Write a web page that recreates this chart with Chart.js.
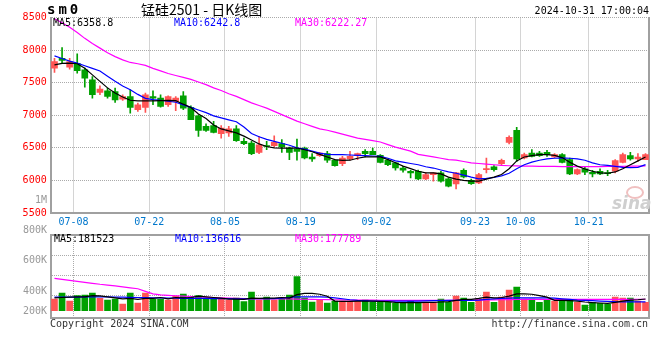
<!DOCTYPE html>
<html><head><meta charset="utf-8">
<script src="https://cdn.jsdelivr.net/npm/chart.js@4.4.1/dist/chart.umd.min.js"></script>
<style>
html,body{margin:0;padding:0;background:#fff;}
#wrap{position:relative;width:660px;height:360px;overflow:hidden;font-family:"DejaVu Sans Mono","Liberation Mono",monospace;}
canvas{position:absolute;left:0;top:0;}
.t{position:absolute;white-space:nowrap;font-size:10px;line-height:12px;}
</style></head><body>
<div id="wrap">
<canvas id="main" width="660" height="360"></canvas>
<canvas id="vol" width="660" height="360"></canvas>
<div class="t" style="left:47px;top:3px;font-size:14px;font-weight:bold;letter-spacing:3px;">sm0</div>
<div class="t" style="left:141px;top:2px;font-size:14px;line-height:15px;font-family:'Noto Sans CJK SC',sans-serif;">锰硅2501 - 日K线图</div>
<div class="t" style="right:11px;top:5px;">2024-10-31 17:00:04</div>
<div class="t" id="lg1" style="left:53px;top:17px;color:#000;"></div>
<div class="t" id="lg2" style="left:174px;top:17px;color:#0000ff;"></div>
<div class="t" id="lg3" style="left:295px;top:17px;color:#ff00ff;"></div>
<div class="t" id="vl1" style="left:54px;top:233px;color:#000;"></div>
<div class="t" id="vl2" style="left:175px;top:233px;color:#0000ff;"></div>
<div class="t" id="vl3" style="left:295px;top:233px;color:#ff00ff;"></div>
<div id="vlab"></div>
<div class="t" style="left:50px;top:318px;color:#333;">Copyright 2024 SINA.COM</div>
<div class="t" style="right:12px;top:318px;color:#333;">http://finance.sina.com.cn</div>
<div style="position:absolute;left:626px;top:186px;width:14px;height:9px;border-radius:50%;border:2px solid #f0c0c0;"></div>
<div class="t" style="left:612px;top:193px;font:italic bold 17px 'DejaVu Sans',sans-serif;color:#cfcfcf;">sina</div>
</div>
<script>
// ---- data ----
const dates = ["07-04","07-05","07-08","07-09","07-10","07-11","07-12","07-15","07-16","07-17","07-18","07-19","07-22","07-23","07-24","07-25","07-26","07-29","07-30","07-31",
"08-01","08-02","08-05","08-06","08-07","08-08","08-09","08-12","08-13","08-14","08-15","08-16","08-19","08-20","08-21","08-22","08-23","08-26","08-27","08-28","08-29","08-30",
"09-02","09-03","09-04","09-05","09-06","09-09","09-10","09-11","09-12","09-13","09-18","09-19","09-20","09-23","09-24","09-25","09-26","09-27","09-30",
"10-08","10-09","10-10","10-11","10-14","10-15","10-16","10-17","10-18","10-21","10-22","10-23","10-24","10-25","10-28","10-29","10-30","10-31"];
const tickLabels = ["07-08","07-22","08-05","08-19","09-02","09-23","10-08","10-21"];
const priceTicks = [5500,6000,6500,7000,7500,8000,8500];
const volAxisLabels = ["1M","800K","600K","400K","200K"];

const open  = [7722,7875,7737,7798,7696,7543,7349,7375,7365,7247,7288,7084,7120,7288,7263,7161,7212,7298,7120,6992,
6829,6840,6717,6727,6793,6599,6574,6431,6535,6533,6564,6497,6482,6497,6360,6380,6411,6309,6258,6329,
6380,6446,6446,6385,6309,6268,6191,6140,6140,6023,6089,6115,6023,5946,6156,6002,5962,6166,6207,6258,
6584,6768,6344,6421,6421,6431,6360,6395,6319,6099,6176,6125,6140,6115,6140,6278,6380,6329,6319];
const high  = [7875,8038,7875,7941,7722,7594,7451,7416,7416,7314,7390,7186,7339,7375,7314,7298,7288,7365,7145,7008,
6870,6906,6840,6830,6840,6650,6599,6676,6600,6686,6625,6513,6635,6513,6411,6431,6446,6319,6370,6446,
6421,6472,6497,6395,6329,6278,6217,6156,6160,6115,6115,6140,6040,6125,6176,6020,6110,6344,6227,6329,
6686,6814,6421,6472,6446,6462,6410,6410,6344,6176,6207,6156,6176,6156,6319,6421,6431,6411,6411];
const low   = [7656,7798,7707,7645,7431,7263,7314,7263,7196,7227,7033,7059,7043,7161,7125,7135,7069,7084,6931,6676,
6753,6727,6650,6676,6600,6549,6395,6411,6470,6513,6431,6319,6309,6329,6293,6370,6278,6217,6227,6309,
6319,6360,6395,6268,6227,6156,6125,6038,6010,6013,5987,5972,5900,5870,6038,5940,5950,6115,6140,6227,
6560,6293,6329,6360,6370,6370,6350,6270,6089,6089,6089,6054,6089,6074,6115,6268,6309,6293,6319];
const close = [7824,7840,7824,7686,7569,7314,7400,7288,7237,7288,7120,7161,7314,7262,7135,7288,7263,7110,6931,6768,
6768,6737,6804,6793,6610,6564,6411,6548,6520,6584,6513,6431,6446,6344,6329,6421,6309,6227,6344,6370,
6411,6411,6395,6278,6242,6191,6156,6115,6023,6089,6115,5987,5911,6115,6054,5951,6089,6181,6166,6309,
6661,6329,6395,6370,6380,6395,6395,6278,6099,6166,6125,6099,6099,6105,6303,6395,6329,6360,6395];
const ma5  = [7773,7795,7800,7790,7720,7620,7520,7420,7340,7280,7230,7222,7222,7222,7225,7228,7225,7170,7120,7020,
6950,6850,6790,6760,6730,6680,6620,6560,6520,6500,6497,6497,6497,6470,6440,6400,6360,6320,6309,6310,
6340,6360,6360,6360,6320,6270,6220,6180,6140,6115,6115,6100,6050,6020,6000,5990,5990,6020,6050,6090,
6180,6300,6360,6380,6395,6395,6385,6350,6280,6220,6175,6140,6115,6110,6130,6180,6240,6300,6358.8];
const ma10 = [7911,7870,7830,7800,7760,7720,7680,7600,7520,7450,7390,7320,7260,7240,7230,7215,7200,7160,7120,7080,
7040,6990,6960,6930,6900,6820,6720,6670,6630,6600,6570,6540,6500,6480,6450,6420,6400,6395,6395,6390,
6385,6380,6375,6370,6340,6300,6280,6260,6240,6210,6190,6160,6130,6110,6080,6050,6025,6030,6045,6070,
6110,6180,6240,6280,6310,6330,6340,6345,6340,6330,6310,6270,6240,6230,6215,6200,6195,6200,6242.8];
const ma30 = [8480,8420,8350,8270,8180,8100,8030,7960,7900,7850,7810,7790,7765,7720,7680,7640,7610,7580,7550,7510,
7470,7420,7380,7330,7290,7240,7190,7150,7110,7060,7010,6960,6910,6870,6830,6790,6770,6740,6710,6680,
6650,6630,6610,6590,6550,6510,6480,6450,6400,6380,6360,6340,6320,6310,6290,6270,6260,6250,6240,6230,
6225,6222,6220,6218,6216,6215,6214,6213,6212,6212,6212,6212,6213,6214,6215,6216,6218,6220,6222.27];
const volume = [181,274,150,233,243,274,191,166,181,104,274,119,274,181,181,166,228,259,217,233,
181,181,181,166,197,140,290,166,212,166,197,243,527,197,135,166,119,150,150,150,
150,166,129,129,129,113,113,150,129,129,129,181,129,228,197,129,181,290,129,212,
321,367,181,181,129,166,150,166,166,129,88,129,113,104,212,197,197,150,129].map(v=>v*1000);
const vma5 = [200,205,210,215,215,235,230,215,200,185,190,175,190,190,205,185,205,200,205,225,
215,205,195,180,180,175,195,190,195,195,205,195,250,270,270,255,225,150,145,145,
150,150,150,145,140,130,125,125,125,130,130,135,140,160,175,175,190,210,200,205,
225,260,260,255,235,210,160,160,155,150,135,125,120,115,130,150,165,170,181.523].map(v=>v*1000);
const vma10 = [210,210,210,212,214,215,215,214,212,210,208,205,203,200,198,196,194,192,190,190,
190,188,187,186,185,185,186,187,188,188,195,205,215,215,215,215,210,200,185,170,
160,155,150,150,150,150,148,148,150,152,155,158,160,162,160,160,165,175,185,190,
195,200,200,200,200,200,195,185,175,165,160,155,150,145,140,138,137,137,136.616].map(v=>v*1000);
const vma30 = [500,485,470,455,440,425,410,398,385,370,355,340,300,260,245,238,232,226,220,214,
210,205,200,196,192,188,185,183,182,182,182,182,180,178,176,174,172,170,168,166,
165,164,163,162,161,160,160,160,160,160,160,160,161,162,163,164,165,166,168,170,
172,174,175,176,176,177,177,177,177,177,177,177,177,177,177,177,177,178,177.789].map(v=>v*1000);

// ---- styles ----
const RED='#ff5454', GREEN='#00a000', GRID='#aaaaaa', AXIS='#a0a0a0';
const MONO='"DejaVu Sans Mono","Liberation Mono",monospace';
const N = dates.length;
const tickPos = tickLabels.map(d => dates.indexOf(d) + 1);
const up = close.map((c,i)=> c >= open[i]);
const col = up.map(u => u ? RED : GREEN);
const pts = arr => arr.map((v,i)=>({x:i+0.5, y:v}));

document.getElementById('lg1').textContent = 'MA5:' + ma5[N-1].toFixed(1);
document.getElementById('lg2').textContent = 'MA10:' + ma10[N-1].toFixed(1);
document.getElementById('lg3').textContent = 'MA30:' + ma30[N-1].toFixed(2);
document.getElementById('vl1').textContent = 'MA5:' + Math.round(vma5[N-1]);
document.getElementById('vl2').textContent = 'MA10:' + Math.round(vma10[N-1]);
document.getElementById('vl3').textContent = 'MA30:' + Math.round(vma30[N-1]);
const vlabTop = [194,224,254,285,305];
document.getElementById('vlab').innerHTML = volAxisLabels.map((s,i)=>
  `<div class="t" style="right:${660-47}px;top:${vlabTop[i]}px;color:#999;text-align:right;">${s}</div>`).join('');

const xTicks = (scale)=>{ scale.ticks = tickPos.map(v=>({value:v})); };
const lineDs = (data,color)=>({type:'line',data:pts(data),borderColor:color,borderWidth:1.2,pointRadius:0,tension:0,order:0});

new Chart(document.getElementById('main'), {
  type:'bar',
  data:{datasets:[
    lineDs(ma5,'#000000'), lineDs(ma10,'#0000ff'), lineDs(ma30,'#ff00ff'),
    {data: open.map((o,i)=>({x:i+0.5,y:[Math.min(o,close[i]),Math.max(o,close[i])]})), backgroundColor:col, barThickness:6, grouped:false, minBarLength:1, order:1},
    {data: low.map((l,i)=>({x:i+0.5,y:[l,high[i]]})), backgroundColor:col, barThickness:1, grouped:false, order:2}
  ]},
  options:{
    responsive:false, animation:false, devicePixelRatio:1,
    layout:{padding:{left:0,right:10.7,top:17.5,bottom:125}},
    plugins:{legend:{display:false},tooltip:{enabled:false}},
    scales:{
      x:{type:'linear',offset:false,min:0,max:N,afterBuildTicks:xTicks,afterFit:s=>{s.height=22;},
         grid:{color:GRID,drawTicks:false,offset:false},border:{color:AXIS,width:2,dash:[1,1]},
         ticks:{autoSkip:false,maxRotation:0,padding:3,color:'#0077cc',font:{family:MONO,size:10},callback:(v,i)=>tickLabels[i]}},
      y:{min:5500,max:8500,afterBuildTicks:s=>{s.ticks=priceTicks.map(v=>({value:v}));},afterFit:s=>{s.width=50.7;},
         grid:{color:GRID,drawTicks:false},border:{color:AXIS,width:2,dash:[1,1]},
         ticks:{padding:4,color:'#ff0000',font:{family:MONO,size:10},callback:v=>String(v)}},
      yr:{position:'right',min:0,max:1,afterFit:s=>{s.width=0;},grid:{display:false,drawTicks:false},border:{color:AXIS,width:2},ticks:{display:false}}
    }
  }
});

new Chart(document.getElementById('vol'), {
  type:'bar',
  data:{datasets:[
    lineDs(vma5,'#000000'), lineDs(vma10,'#0000ff'), lineDs(vma30,'#ff00ff'),
    {data: volume.map((v,i)=>({x:i+0.5,y:v})), backgroundColor:col, barThickness:6, grouped:false, order:1}
  ]},
  options:{
    responsive:false, animation:false, devicePixelRatio:1,
    layout:{padding:{left:0,right:10.7,top:235,bottom:42.5}},
    plugins:{legend:{display:false},tooltip:{enabled:false}},
    scales:{
      x:{type:'linear',offset:false,min:0,max:N,afterBuildTicks:xTicks,afterFit:s=>{s.height=0;},
         grid:{color:GRID,drawTicks:false,offset:false},border:{color:AXIS,width:2,dash:[1,1]},ticks:{display:false}},
      xt:{type:'linear',position:'top',offset:false,min:0,max:1,afterFit:s=>{s.height=0;},grid:{display:false,drawTicks:false},border:{color:AXIS,width:2},ticks:{display:false}},
      y:{min:-105000,max:1173000,afterBuildTicks:s=>{s.ticks=[232500,542500,852500].map(v=>({value:v}));},afterFit:s=>{s.width=50.7;},
         grid:{color:GRID,drawTicks:false},border:{color:AXIS,width:2,dash:[1,1]},ticks:{display:false}},
      yr:{position:'right',min:0,max:1,afterFit:s=>{s.width=0;},grid:{display:false,drawTicks:false},border:{color:AXIS,width:2},ticks:{display:false}}
    }
  }
});
</script>
</body></html>
